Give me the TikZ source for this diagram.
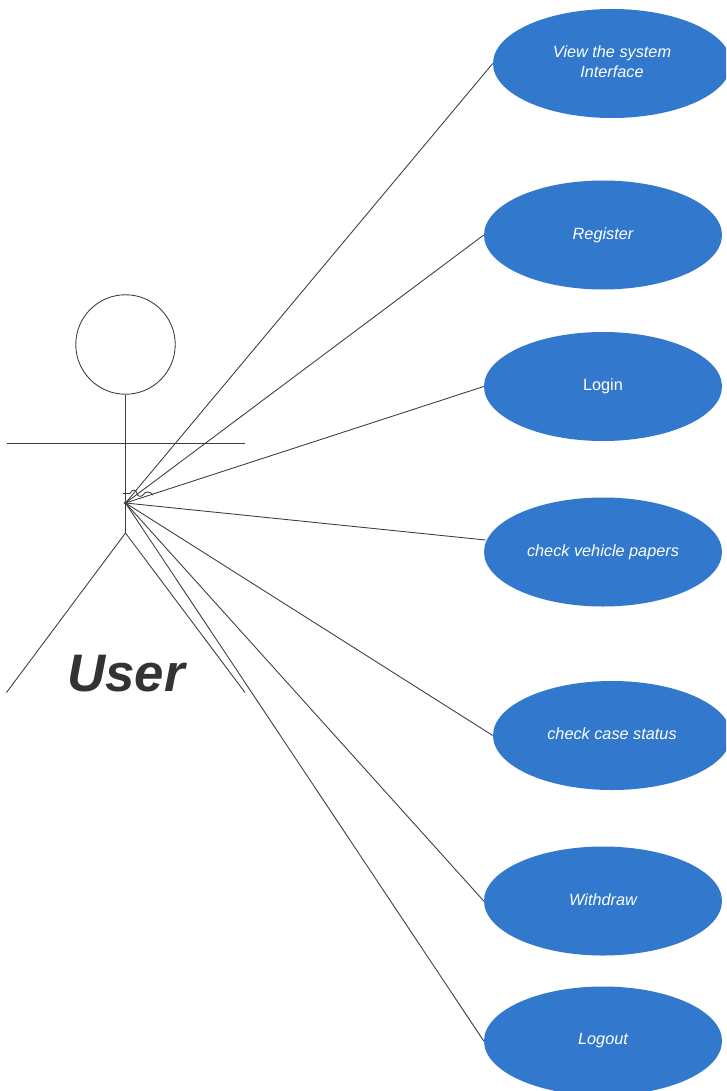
\documentclass[tikz,border=0pt]{standalone}
\usepackage{fontspec}
\setmainfont{Liberation Sans}
\usetikzlibrary{shapes.geometric}
\definecolor{ucblue}{HTML}{3278CC}
\definecolor{ucline}{HTML}{3C3C3C}
\definecolor{usertext}{HTML}{333333}
\tikzset{
  uc/.style={ellipse,fill=ucblue,minimum width=178.5pt,minimum height=81.75pt,inner sep=0pt,text=white,align=center,font=\fontsize{12.2}{15}\selectfont\itshape},
  stick/.style={draw=ucline,line width=0.65pt},
  conn/.style={draw=ucline,line width=0.65pt}
}
\begin{document}
\begin{tikzpicture}[x=0.75pt,y=-0.75pt]
\useasboundingbox (0,0) rectangle (726,1091);
\clip (0,0) rectangle (726,1091);
% actor
\node[draw=ucline,line width=0.65pt,circle,minimum width=74.6pt,inner sep=0pt] (head) at (125.5,344.5) {};
\coordinate (hip) at (125.5,533);
\coordinate (armL) at (6.5,443.7);
\coordinate (armR) at (245,443.7);
\coordinate (legL) at (6.5,692.5);
\coordinate (legR) at (245,692.5);
\coordinate (hub) at (125.5,503);
\draw[stick] (head.south) -- (hip);
\draw[stick] (armL) -- (armR);
\draw[stick] (legL) -- (hip) -- (legR);
\node[font=\fontsize{39.6}{46}\selectfont\bfseries\itshape,text=usertext,inner sep=0pt] (user) at (126,674) {User};
% use cases
\node[uc] (a) at (612,63.5) {View the system\\Interface\rule[-3pt]{0pt}{0pt}};
\node[uc] (b) at (603,235) {\raisebox{0.75pt}{Register}};
\node[uc,font=\fontsize{12.2}{15}\selectfont] (c) at (603,386.5) {Login};
\node[uc] (d) at (603,552) {\raisebox{1.5pt}{check vehicle papers}};
\node[uc] (e) at (612,735.5) {\raisebox{2.5pt}{check case status}};
\node[uc] (f) at (603,901) {\raisebox{2.25pt}{Withdraw}};
\node[uc] (g) at (603,1041) {Logout};
\coordinate (dend) at (485.5,540);
% connectors
\draw[conn] (hub) -- (a.west);
\draw[conn] (hub) -- (b.west);
\draw[conn] (hub) -- (c.west);
\draw[conn] (hub) -- (dend);
\draw[conn] (hub) -- (e.west);
\draw[conn] (hub) -- (f.west);
\draw[conn] (hub) -- (g.west);
\fill[ucline] (hub) circle (1.8);
% line jumps
\coordinate (j0) at (123,493.5);
\coordinate (j1) at (130,493.5);
\coordinate (j2) at (137,493.5);
\coordinate (j3) at (143,495);
\coordinate (j4) at (153,495);
\draw[conn] (j0) -- (j1) .. controls (132,489) and (136,489) .. (j2) .. controls (138,497) and (141,497) .. (j3) .. controls (145,491) and (150,491) .. (j4);
\end{tikzpicture}
\end{document}
